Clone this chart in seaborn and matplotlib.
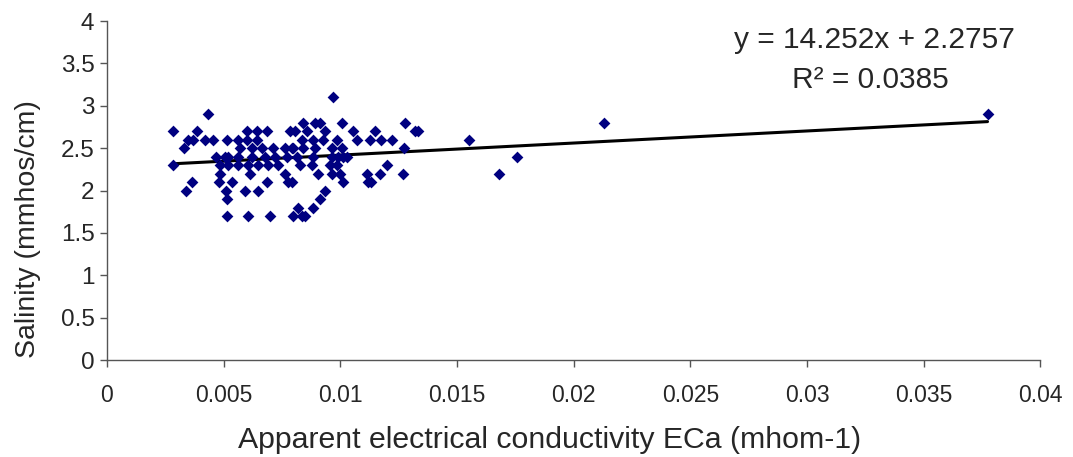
import numpy as np
import pandas as pd
import seaborn as sns
import matplotlib
matplotlib.use("Agg")
import matplotlib.pyplot as plt

# apparent electrical conductivity ECa (mhom-1)
eca = [
    0.00433, 0.00283, 0.00386, 0.00347, 0.00369, 0.00420, 0.00455, 0.00515,
    0.00330, 0.00467, 0.00506, 0.00283, 0.00485, 0.00485, 0.00480, 0.00364,
    0.00339, 0.00510, 0.00515, 0.00515,
    0.00600, 0.00643, 0.00686, 0.00562, 0.00600, 0.00643, 0.00570, 0.00622,
    0.00665, 0.00712, 0.00763, 0.00793, 0.00785, 0.00519, 0.00562, 0.00622,
    0.00678, 0.00720, 0.00772, 0.00519, 0.00562, 0.00605, 0.00647, 0.00690,
    0.00733, 0.00613, 0.00763, 0.00536, 0.00686, 0.00776, 0.00592, 0.00647,
    0.00605, 0.00699, 0.00798,
    0.00969, 0.00840, 0.00892, 0.00913, 0.01008, 0.00806, 0.00858, 0.00935,
    0.01055, 0.00836, 0.00883, 0.00926, 0.00986, 0.01072, 0.00798, 0.00840,
    0.00892, 0.00965, 0.01008, 0.00815, 0.00883, 0.00965, 0.01012, 0.00828,
    0.00879, 0.00956, 0.00986, 0.00905, 0.00965, 0.00999, 0.00793, 0.01012,
    0.00935, 0.00913, 0.00819, 0.00883, 0.00836, 0.00850,
    0.01278, 0.01149, 0.01321, 0.01334, 0.01128, 0.01175, 0.01222, 0.01274,
    0.01201, 0.01115, 0.01171, 0.01269, 0.01119, 0.01132, 0.00990, 0.01030,
    0.01552, 0.01758, 0.01681, 0.02131, 0.03773,
]
# salinity (mmhos/cm)
salinity = [
    2.9, 2.7, 2.7, 2.6, 2.6, 2.6, 2.6, 2.6,
    2.5, 2.4, 2.4, 2.3, 2.3, 2.2, 2.1, 2.1,
    2.0, 2.0, 1.9, 1.7,
    2.7, 2.7, 2.7, 2.6, 2.6, 2.6, 2.5, 2.5,
    2.5, 2.5, 2.5, 2.5, 2.7, 2.4, 2.4, 2.4,
    2.4, 2.4, 2.4, 2.3, 2.3, 2.3, 2.3, 2.3,
    2.3, 2.2, 2.2, 2.1, 2.1, 2.1, 2.0, 2.0,
    1.7, 1.7, 1.7,
    3.1, 2.8, 2.8, 2.8, 2.8, 2.7, 2.7, 2.7,
    2.7, 2.6, 2.6, 2.6, 2.6, 2.6, 2.5, 2.5,
    2.5, 2.5, 2.5, 2.4, 2.4, 2.4, 2.4, 2.3,
    2.3, 2.3, 2.3, 2.2, 2.2, 2.2, 2.1, 2.1,
    2.0, 1.9, 1.8, 1.8, 1.7, 1.7,
    2.8, 2.7, 2.7, 2.7, 2.6, 2.6, 2.6, 2.5,
    2.3, 2.2, 2.2, 2.2, 2.1, 2.1, 2.4, 2.4,
    2.6, 2.4, 2.2, 2.8, 2.9,
]

# linear trendline as reported on the chart
slope = 14.252
intercept = 2.2757
r2 = 0.0385

x_ticks = [0, 0.005, 0.01, 0.015, 0.02, 0.025, 0.03, 0.035, 0.04]
x_tick_labels = ["0", "0.005", "0.01", "0.015", "0.02", "0.025", "0.03", "0.035", "0.04"]
y_ticks = [0, 0.5, 1, 1.5, 2, 2.5, 3, 3.5, 4]
y_tick_labels = ["0", "0.5", "1", "1.5", "2", "2.5", "3", "3.5", "4"]

df = pd.DataFrame({"eca": eca, "salinity": salinity})
x_line = np.array([min(eca), max(eca)])
trend = pd.DataFrame({"eca": x_line, "salinity": slope * x_line + intercept})

sns.set_theme(style="ticks")
plt.rcParams["font.family"] = ["Liberation Sans", "DejaVu Sans"]

fig = plt.figure(figsize=(10.73, 4.57), dpi=100)
ax = fig.add_axes([0.0997, 0.212, 0.870, 0.742])

sns.scatterplot(data=df, x="eca", y="salinity", ax=ax, marker="D", s=36,
                color="#000080", edgecolor="#000080", linewidth=0, zorder=3)
sns.lineplot(data=trend, x="eca", y="salinity", ax=ax, color="black",
             linewidth=2.2, zorder=2)

ax.set_xlim(0, 0.04)
ax.set_ylim(0, 4)
ax.set_xticks(x_ticks)
ax.set_xticklabels(x_tick_labels, fontsize=16.5)
ax.set_yticks(y_ticks)
ax.set_yticklabels(y_tick_labels, fontsize=17.5)
ax.tick_params(axis="x", length=5, width=1, color="#555555", pad=12)
ax.tick_params(axis="y", length=5, width=1, color="#555555", pad=4)
for side in ["top", "right"]:
    ax.spines[side].set_visible(False)
for side in ["left", "bottom"]:
    ax.spines[side].set_color("#555555")
    ax.spines[side].set_linewidth(1)

ax.set_xlabel("Apparent electrical conductivity ECa (mhom-1)", fontsize=21.8)
ax.xaxis.set_label_coords(0.474, -0.195)
ax.set_ylabel("Salinity (mmhos/cm)", fontsize=20.5)
ax.yaxis.set_label_coords(-0.071, 0.386)

ax.text(0.0329, 3.78, f"y = {slope}x + {intercept}", fontsize=21.5, ha="center", va="center")
ax.text(0.0327, 3.31, f"R\u00b2 = {r2}", fontsize=21.5, ha="center", va="center")

fig.savefig("out.png", dpi=100)
